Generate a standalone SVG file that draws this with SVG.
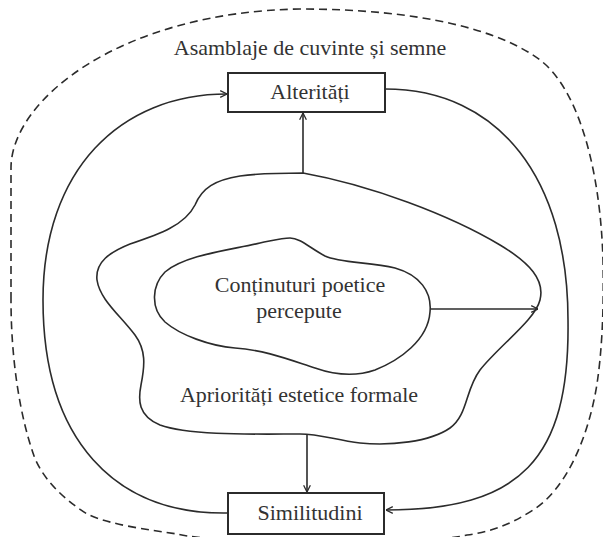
<svg xmlns="http://www.w3.org/2000/svg" width="603" height="537" viewBox="0 0 603 537">
<style>
.ln{fill:none;stroke:#2b2b2b;stroke-width:1.6}
.box{fill:#fff;stroke:#2b2b2b;stroke-width:2}
.dash{fill:none;stroke:#2b2b2b;stroke-width:1.6;stroke-dasharray:8 5}
.t{font-family:"Liberation Serif","Times New Roman",serif;font-size:22px;fill:#333;text-anchor:middle}
</style>
<defs>
<marker id="ah" viewBox="0 0 10 10" refX="9.5" refY="5" markerWidth="8" markerHeight="9" markerUnits="userSpaceOnUse" orient="auto">
<path d="M1,0.8 L9.5,5 L1,9.2" fill="none" stroke="#2b2b2b" stroke-width="1.6"/>
</marker>
</defs>
<rect width="603" height="537" fill="#fff"/>
<g id="asamblaje">
<path class="dash" d="M11,300 L11,168 C11,100 120,12 300,9 C420,9 500,30 540,60 C575,86 600,160 603,260 C604,310 602,350 597,384 C588,440 565,490 533,510 C510,525 490,532 467,535 C420,546 230,546 177,534 C150,530 110,525 87,514 C60,497 40,475 33,453 C20,415 11,360 11,300 Z"/>
<text class="t" x="310" y="55">Asamblaje de cuvinte și semne</text>
</g>
<g id="aprioritati">
<path class="ln" d="M303,173 C370,185 450,215 500,245 C530,263 545,280 540,300 C535,320 500,345 480,370 C465,390 468,415 450,428 C430,442 390,446 360,443 C335,440 320,434 300,434 C260,434 190,436 160,425 C138,416 138,400 141,385 C145,365 146,350 135,335 C120,315 100,300 97,280 C95,262 110,252 130,244 C160,234 185,225 195,205 C202,188 215,180 240,176 C262,173 285,173 303,173 Z"/>
<text class="t" x="299" y="402">Apriorități estetice formale</text>
</g>
<g id="continuturi">
<path class="ln" d="M290,238 C300,238 310,248 325,256 C340,263 370,262 395,268 C420,275 432,292 430,312 C428,340 400,360 375,370 C355,377 335,375 315,368 C290,360 265,350 235,348 C210,346 180,335 165,322 C150,308 152,285 165,272 C185,255 230,250 260,243 C275,240 282,238 290,238 Z"/>
<text class="t" x="300" y="292">Conținuturi poetice</text>
<text class="t" x="299" y="318">percepute</text>
</g>
<g id="connectors">
<path class="ln" d="M228,513 C115,515 43,440 43,300 C43,170 120,94 227,94" marker-end="url(#ah)"/>
<path class="ln" d="M385,89 C500,89 568,180 568,320 C570,460 520,510 386,510" marker-end="url(#ah)"/>
<path class="ln" d="M303,173 L303,113" marker-end="url(#ah)"/>
<path class="ln" d="M431,309 L538,309" marker-end="url(#ah)"/>
<path class="ln" d="M307,434 L307,492" marker-end="url(#ah)"/>
</g>
<g id="alteritati">
<rect class="box" x="228" y="73" width="157" height="39"/>
<text class="t" x="310" y="99">Alterități</text>
</g>
<g id="similitudini">
<rect class="box" x="228" y="493" width="156" height="41"/>
<text class="t" x="310" y="520">Similitudini</text>
</g>
</svg>
